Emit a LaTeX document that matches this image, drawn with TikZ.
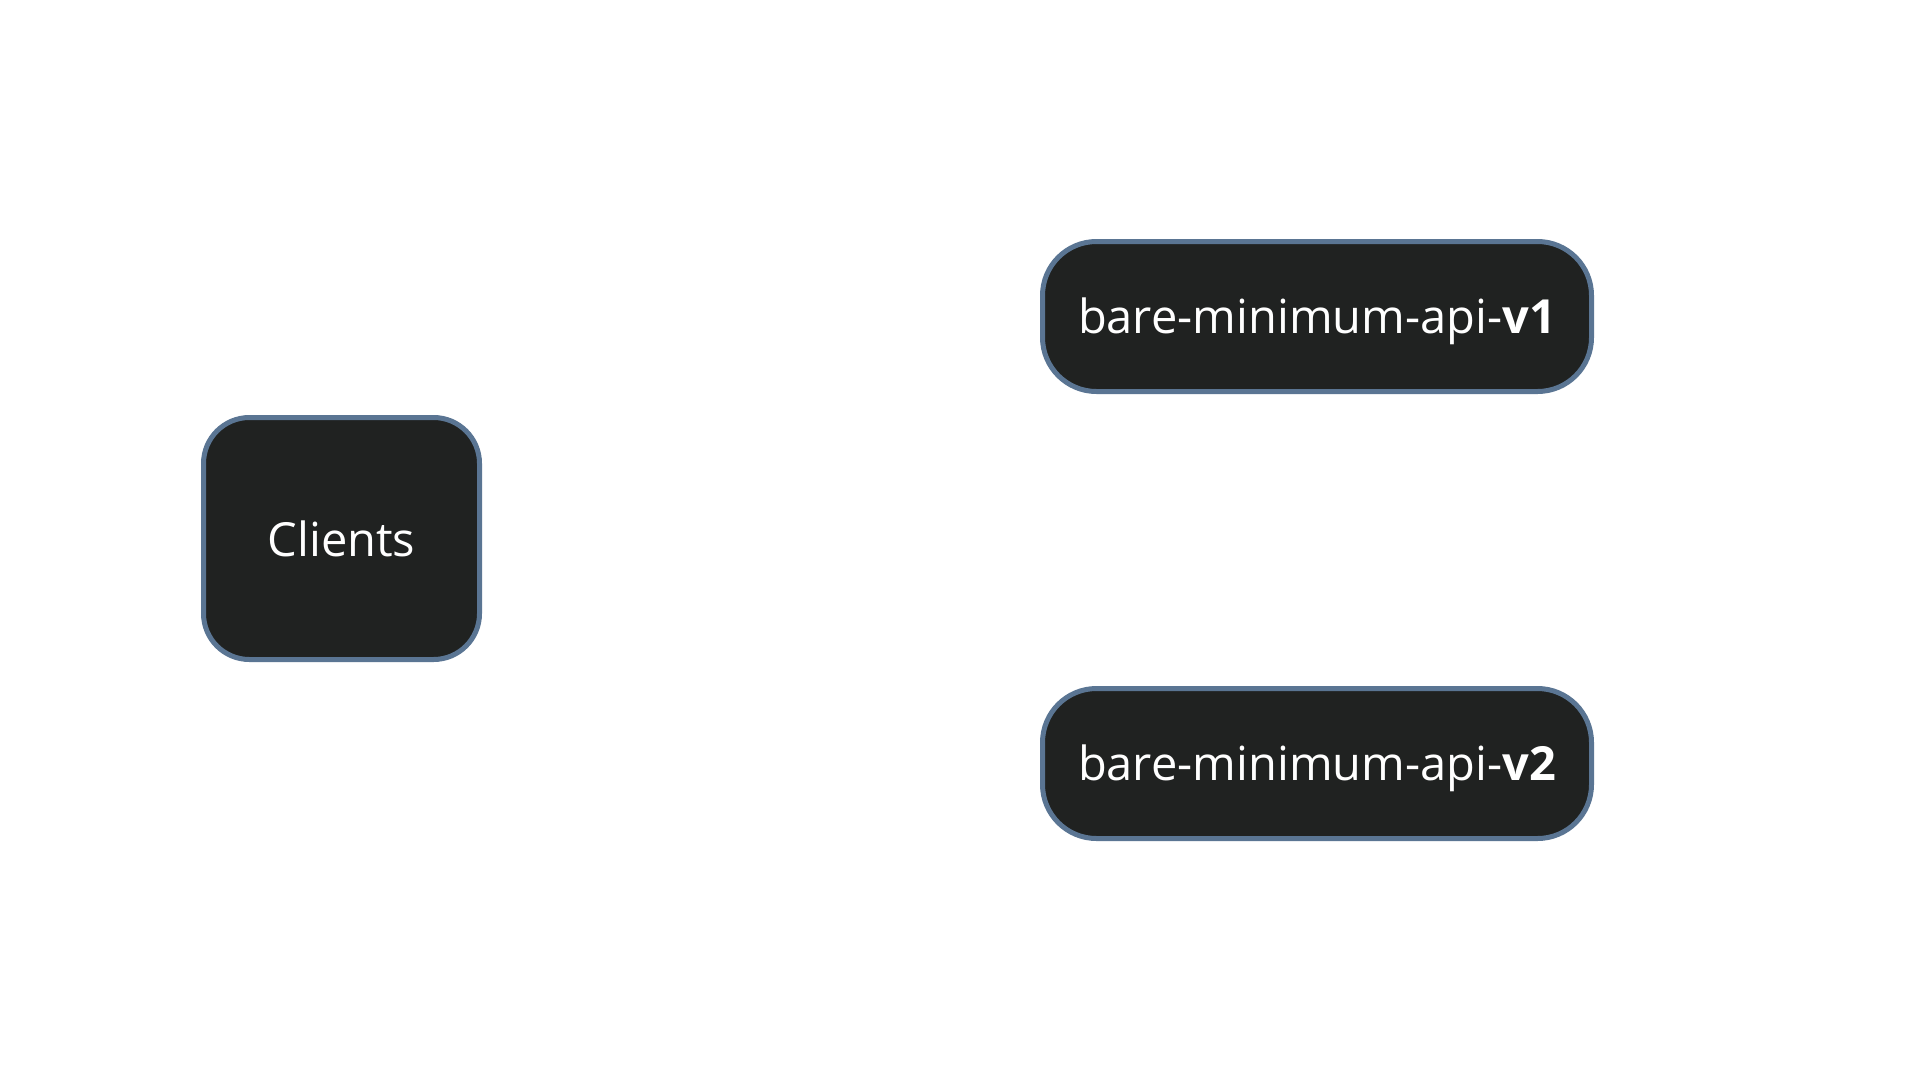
\documentclass[tikz,border=0pt]{standalone}
\usepackage{fontspec}
\setmainfont{Open Sans}
\definecolor{boxfill}{HTML}{202221}
\definecolor{boxline}{HTML}{5A7593}
\begin{document}
\begin{tikzpicture}[x=1pt,y=-1pt,
  box/.style={draw=boxline, line width=5pt, fill=boxfill, text=white,
    font=\fontsize{47}{56}\selectfont, inner sep=0pt},
  apibox/.style={box, rounded corners=54pt, minimum width=549pt, minimum height=150pt,
    text height=38pt, text depth=4pt}]
\useasboundingbox[fill=white] (0,0) rectangle (1920,1080);
\node[box, rounded corners=46pt, minimum width=276pt, minimum height=242pt] (clients) at (341.5,538.5) {Clients};
\node[apibox] (v1) at (1317,316.5) {bare-minimum-api-\textbf{v1}};
\node[apibox] (v2) at (1317,763.5) {bare-minimum-api-\textbf{v2}};
\end{tikzpicture}
\end{document}
